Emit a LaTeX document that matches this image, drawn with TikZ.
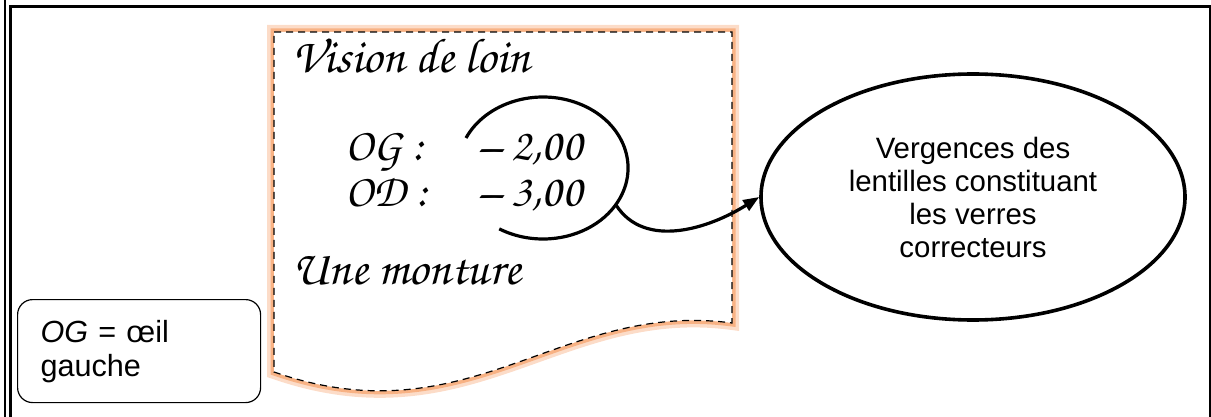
\documentclass[tikz,border=0pt]{standalone}
\usepackage[T1]{fontenc}
\usepackage{fontspec}
\setsansfont{Liberation Sans}
\usetikzlibrary{shapes.geometric,arrows.meta}
\newcommand\hand{\fontencoding{T1}\fontfamily{pzc}\fontseries{mb}\fontshape{it}\selectfont}
\definecolor{glow}{RGB}{248,178,132}
\tikzset{
  script/.style={anchor=base west,inner sep=0pt,font=\hand\fontsize{24.5}{28}\selectfont},
  value/.style={script,font=\hand\fontsize{23}{26}\selectfont,text height=14pt,text depth=3pt},
  sans/.style={font=\sffamily\fontsize{14.7}{16.5}\selectfont},
  sheet/.style={draw,dashed,dash pattern=on 3.5pt off 2.5pt,line width=.6pt,fill=white,
    preaction={draw=glow!45,line width=7pt},preaction={draw=glow,line width=3.5pt}}
}
\begin{document}
\begin{tikzpicture}[x=.5pt,y=-.5pt]
\useasboundingbox (0,0) rectangle (1211,417);
% cadre
\draw[line width=1pt] (5,0) -- (5,417);
\draw[line width=1.4pt] (10.5,417) |- (1210,6.5) -- (1210,417);
% ordonnance
\path[sheet] (274,32) -- (732,32) -- (732,323) .. controls (560,300) and (470,440) .. (274,372) -- cycle;
\node[script] (vision) at (292,73) {Vision de loin};
\node[value] (og) at (345,161) {OG :};
\node[value] (ogval) at (478,161) {-- 2,00};
\node[value] (od) at (345,206) {OD :};
\node[value] (odval) at (478,206) {-- 3,00};
\node[script] (monture) at (292,285) {Une monture};
\draw[line width=1.6pt] (466,138) arc[start angle=-155,end angle=121,x radius=85,y radius=71];
\coordinate (lk) at (616,205);
% bulle
\node[ellipse,draw,line width=1.8pt,minimum width=212pt,minimum height=123pt,inner sep=0pt,
  sans,align=center] (vergences) at (973,197) {Vergences des\\lentilles constituant\\les verres\\correcteurs};
\draw[line width=1.6pt,-{Triangle[length=8pt,width=6pt]}] (lk) .. controls (645,250) and (710,228) .. (vergences.west);
% legende
\node[draw,rounded corners=7.5pt,line width=.6pt,anchor=north west,minimum width=121.5pt,
  minimum height=51.5pt,inner xsep=11.5pt,text width=98.5pt,align=left,
  font=\sffamily\fontsize{15.3}{17}\selectfont] (legend) at (17,299) {\textit{OG} = œil\\gauche};
\end{tikzpicture}
\end{document}
